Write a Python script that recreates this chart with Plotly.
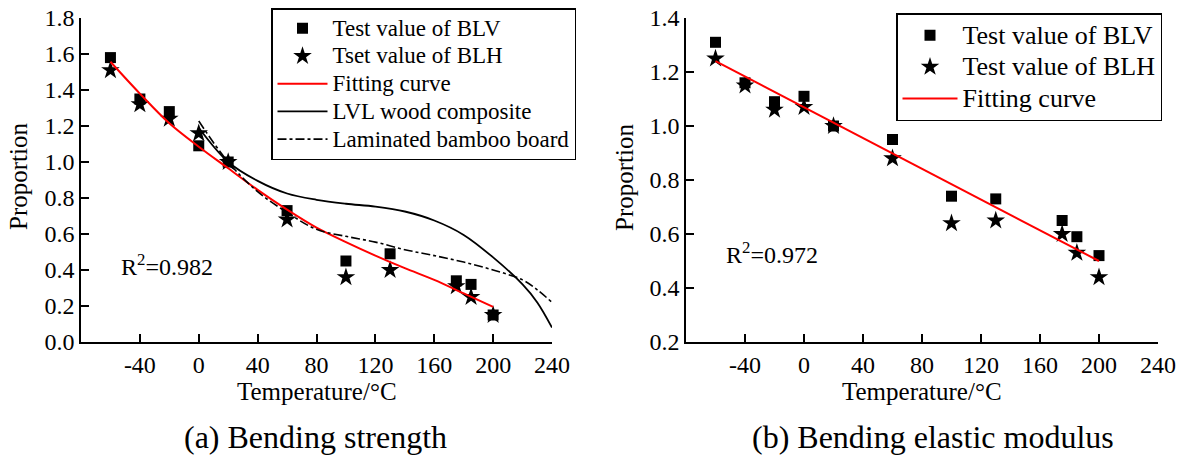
import plotly.graph_objects as go

# ---------------- data: (a) Bending strength ----------------
temp_test = [-60, -40, -20, 0, 20, 60, 100, 130, 175, 185, 200]
a_blv = [1.58, 1.35, 1.28, 1.09, 1.00, 0.73, 0.45, 0.49, 0.34, 0.32, 0.15]
a_blh = [1.51, 1.32, 1.24, 1.16, 1.00, 0.68, 0.36, 0.40, 0.31, 0.25, 0.15]

a_fit_T = [-60, -40, -20, 0, 20, 40, 60, 80, 100, 120, 140, 160, 180, 200]
a_fit_v = [1.557, 1.38, 1.215, 1.085, 0.965, 0.845, 0.735, 0.635, 0.555, 0.48, 0.41, 0.345, 0.27, 0.195]

lvl_T = [0, 20, 40, 60, 80, 100, 120, 140, 160, 180, 200, 220, 230, 240]
lvl_v = [1.19, 1.00, 0.895, 0.825, 0.79, 0.768, 0.752, 0.725, 0.675, 0.595, 0.47, 0.32, 0.22, 0.08]

bam_T = [0, 20, 40, 60, 80, 100, 120, 140, 160, 180, 200, 220, 230, 240]
bam_v = [1.228, 1.00, 0.835, 0.72, 0.626, 0.587, 0.555, 0.513, 0.48, 0.444, 0.40, 0.345, 0.29, 0.22]

# ---------------- data: (b) Bending elastic modulus ----------------
b_blv = [1.31, 1.16, 1.09, 1.11, 1.00, 0.95, 0.74, 0.73, 0.65, 0.59, 0.52]
b_blh = [1.25, 1.15, 1.06, 1.07, 1.00, 0.88, 0.64, 0.65, 0.60, 0.53, 0.44]
b_fit_T = [-60, 200]
b_fit_v = [1.24, 0.50]

x_ticks = [-40, 0, 40, 80, 120, 160, 200, 240]
a_y_ticks = [0.0, 0.2, 0.4, 0.6, 0.8, 1.0, 1.2, 1.4, 1.6, 1.8]
b_y_ticks = [0.2, 0.4, 0.6, 0.8, 1.0, 1.2, 1.4]

a_names = ["Test value of BLV", "Tset value of BLH", "Fitting curve",
           "LVL wood composite", "Laminated bamboo board"]
b_names = ["Test value of BLV", "Test value of BLH", "Fitting curve"]

FONT = "Liberation Serif, Times New Roman, serif"
W, H = 1184, 461


def lg(name, px):
    return f"<span style='font-size:{px}px'>{name}</span>"


fig = go.Figure()

# panel (a)
fig.add_trace(go.Scatter(x=temp_test, y=a_blv, mode="markers", name=lg(a_names[0], 23),
                         marker=dict(symbol="square", size=11, color="black"),
                         xaxis="x", yaxis="y", legend="legend"))
fig.add_trace(go.Scatter(x=temp_test, y=a_blh, mode="markers", name=lg(a_names[1], 23),
                         marker=dict(symbol="star", size=14, color="black"),
                         xaxis="x", yaxis="y", legend="legend"))
fig.add_trace(go.Scatter(x=a_fit_T, y=a_fit_v, mode="lines", name=lg(a_names[2], 23),
                         line=dict(color="red", width=2, shape="spline"),
                         xaxis="x", yaxis="y", legend="legend"))
fig.add_trace(go.Scatter(x=lvl_T, y=lvl_v, mode="lines", name=lg(a_names[3], 23),
                         line=dict(color="black", width=1.8, shape="spline"),
                         xaxis="x", yaxis="y", legend="legend"))
fig.add_trace(go.Scatter(x=bam_T, y=bam_v, mode="lines", name=lg(a_names[4], 23),
                         line=dict(color="black", width=1.6, dash="dashdot", shape="spline"),
                         xaxis="x", yaxis="y", legend="legend"))

# panel (b)
fig.add_trace(go.Scatter(x=temp_test, y=b_blv, mode="markers", name=lg(b_names[0], 26),
                         marker=dict(symbol="square", size=11, color="black"),
                         xaxis="x2", yaxis="y2", legend="legend2"))
fig.add_trace(go.Scatter(x=temp_test, y=b_blh, mode="markers", name=lg(b_names[1], 26),
                         marker=dict(symbol="star", size=14, color="black"),
                         xaxis="x2", yaxis="y2", legend="legend2"))
fig.add_trace(go.Scatter(x=b_fit_T, y=b_fit_v, mode="lines", name=lg(b_names[2], 26),
                         line=dict(color="red", width=2),
                         xaxis="x2", yaxis="y2", legend="legend2"))

ydom = [(H - 342) / H, (H - 18) / H]


def xax(dom, anchor):
    return dict(domain=dom, anchor=anchor, range=[-80, 240], tickvals=x_ticks,
                ticktext=[str(v) for v in x_ticks],
                showline=True, linecolor="black", linewidth=1.6, mirror=False,
                ticks="inside", ticklen=8, tickwidth=1.6, tickcolor="black",
                showgrid=False, zeroline=False, automargin=False,
                tickfont=dict(family=FONT, size=24, color="black"))


def yax(dom, anchor, rng, vals):
    return dict(domain=dom, anchor=anchor, range=rng, tickvals=vals,
                ticktext=[f"{v:.1f}" for v in vals],
                showline=True, linecolor="black", linewidth=1.6, mirror=False,
                ticks="inside", ticklen=8, tickwidth=1.6, tickcolor="black",
                showgrid=False, zeroline=False, automargin=False,
                tickfont=dict(family=FONT, size=24, color="black"))


fig.update_layout(
    width=W, height=H,
    margin=dict(l=0, r=0, t=0, b=0, pad=0),
    paper_bgcolor="white", plot_bgcolor="white",
    font=dict(family=FONT, color="black"),
    xaxis=xax([81 / W, 552 / W], "y"),
    yaxis=yax(ydom, "x", [0, 1.8], a_y_ticks),
    xaxis2=xax([686 / W, 1158 / W], "y2"),
    yaxis2=yax(ydom, "x2", [0.2, 1.4], b_y_ticks),
    legend=dict(x=271 / W, y=1 - 8 / H, xanchor="left", yanchor="top",
                bgcolor="white", bordercolor="black", borderwidth=1.5,
                font=dict(family=FONT, size=19, color="black"),
                itemwidth=50, tracegroupgap=0),
    legend2=dict(x=896 / W, y=1 - 13 / H, xanchor="left", yanchor="top",
                 bgcolor="white", bordercolor="black", borderwidth=1.5,
                 font=dict(family=FONT, size=22, color="black"),
                 itemwidth=55, tracegroupgap=0),
    showlegend=True,
)

ann = [
    dict(text="R<sup>2</sup>=0.982", x=119 / W, y=1 - 265 / H, xanchor="left", yanchor="middle", size=24),
    dict(text="R<sup>2</sup>=0.972", x=724 / W, y=1 - 253 / H, xanchor="left", yanchor="middle", size=24),
    dict(text="Temperature/°C", x=317 / W, y=1 - 391 / H, xanchor="center", yanchor="middle", size=25),
    dict(text="Temperature/°C", x=922 / W, y=1 - 391 / H, xanchor="center", yanchor="middle", size=25),
    dict(text="(a) Bending strength", x=315 / W, y=1 - 437 / H, xanchor="center", yanchor="middle", size=32),
    dict(text="(b) Bending elastic modulus", x=933 / W, y=1 - 437 / H, xanchor="center", yanchor="middle", size=32),
]
for a in ann:
    fig.add_annotation(xref="paper", yref="paper", x=a["x"], y=a["y"], text=a["text"],
                       showarrow=False, xanchor=a["xanchor"], yanchor=a["yanchor"],
                       font=dict(family=FONT, size=a["size"], color="black"))
for xc in (18, 624):
    fig.add_annotation(xref="paper", yref="paper", x=xc / W, y=1 - 177 / H, text="Proportion",
                       textangle=-90, showarrow=False, xanchor="center", yanchor="middle",
                       font=dict(family=FONT, size=25, color="black"))

fig.write_html("out.html")
